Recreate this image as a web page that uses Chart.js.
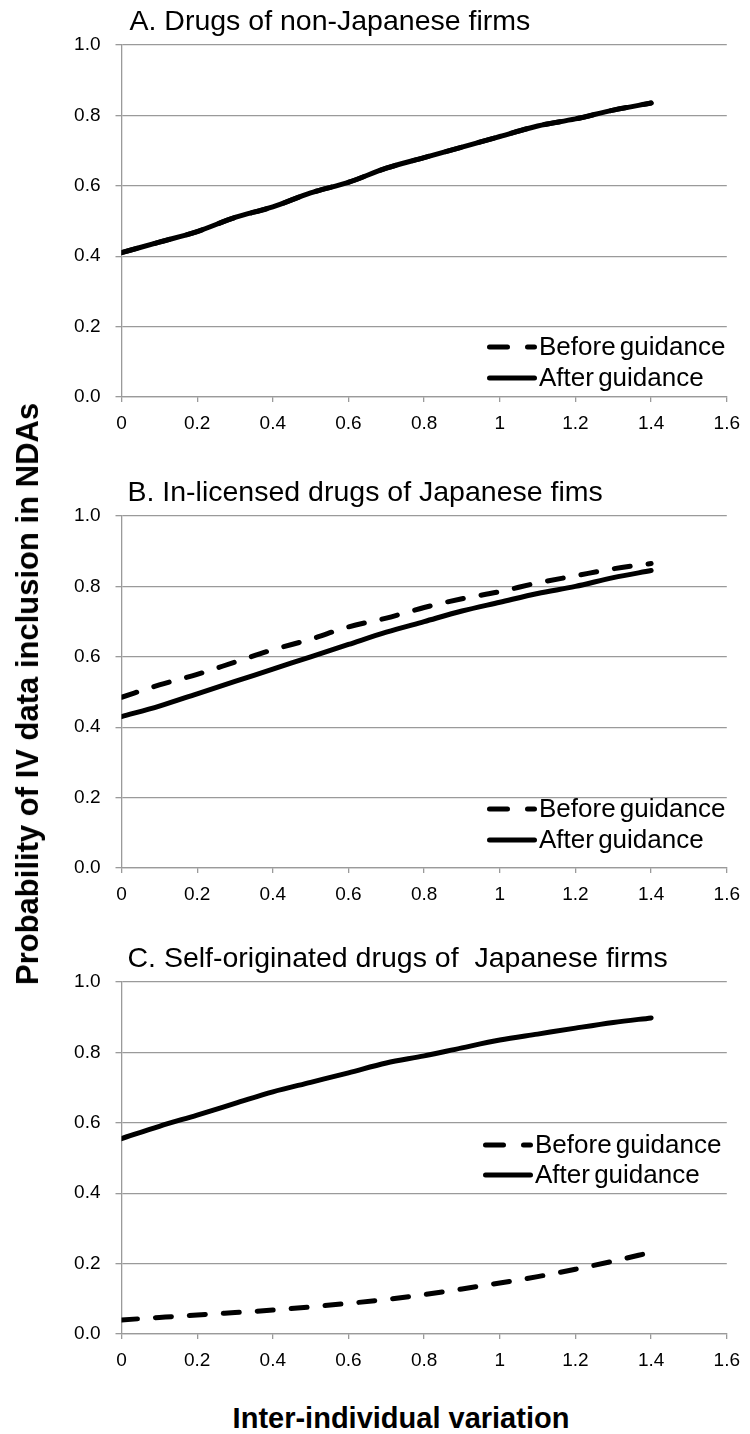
<!DOCTYPE html>
<html>
<head>
<meta charset="utf-8">
<script src="https://cdn.jsdelivr.net/npm/chart.js@4.4.1/dist/chart.umd.min.js"></script>
<style>
  html, body { margin: 0; padding: 0; background: #fff; }
  #page { position: relative; width: 750px; height: 1434px; overflow: hidden;
          font-family: "Liberation Sans", Arial, sans-serif; color: #000; }
  .panel { position: absolute; left: 0; width: 750px; height: 442px; }
  #ytitle { position: absolute; left: 28px; top: 694px; white-space: nowrap;
            transform: translate(-50%, -50%) rotate(-90deg);
            font-weight: bold; font-size: 31px; }
  #xtitle { position: absolute; left: 401px; top: 1418px; white-space: nowrap;
            transform: translate(-50%, -50%);
            font-weight: bold; font-size: 29px; }
</style>
</head>
<body>
<div id="page">
  <canvas id="panelA" class="panel" width="750" height="442" style="top:0px"></canvas>
  <canvas id="panelB" class="panel" width="750" height="442" style="top:471px"></canvas>
  <canvas id="panelC" class="panel" width="750" height="442" style="top:937px"></canvas>
  <div id="ytitle">Probability of IV data inclusion in NDAs</div>
  <div id="xtitle">Inter-individual variation</div>
</div>
<script>
// Inter-individual variation (x) at which each probability was evaluated
const variation = [0, 0.1, 0.2, 0.3, 0.4, 0.5, 0.6, 0.7, 0.8, 0.9, 1.0, 1.1, 1.2, 1.3, 1.4];

// A. Drugs of non-Japanese firms (the two curves coincide)
const nonJapaneseBefore = [0.41, 0.44, 0.47, 0.51, 0.54, 0.58, 0.61, 0.65, 0.68, 0.71, 0.74, 0.77, 0.79, 0.815, 0.835];
const nonJapaneseAfter  = [0.41, 0.44, 0.47, 0.51, 0.54, 0.58, 0.61, 0.65, 0.68, 0.71, 0.74, 0.77, 0.79, 0.815, 0.835];

// B. In-licensed drugs of Japanese firms
const inLicensedBefore = [0.485, 0.52, 0.55, 0.585, 0.62, 0.65, 0.685, 0.71, 0.74, 0.765, 0.785, 0.81, 0.83, 0.85, 0.865];
const inLicensedAfter  = [0.43, 0.46, 0.495, 0.53, 0.565, 0.60, 0.635, 0.67, 0.70, 0.73, 0.755, 0.78, 0.80, 0.825, 0.845];

// C. Self-originated drugs of Japanese firms
const selfOriginBefore = [0.04, 0.047, 0.054, 0.061, 0.068, 0.077, 0.087, 0.098, 0.112, 0.128, 0.145, 0.163, 0.184, 0.207, 0.232];
const selfOriginAfter  = [0.555, 0.59, 0.622, 0.655, 0.688, 0.715, 0.742, 0.77, 0.79, 0.813, 0.835, 0.852, 0.869, 0.885, 0.898];

// Axis ticks
const xTickValues = [0, 0.2, 0.4, 0.6, 0.8, 1.0, 1.2, 1.4, 1.6];
const xTickLabels = ['0', '0.2', '0.4', '0.6', '0.8', '1', '1.2', '1.4', '1.6'];
const yTickValues = [0, 0.2, 0.4, 0.6, 0.8, 1.0];
const yTickLabels = ['0.0', '0.2', '0.4', '0.6', '0.8', '1.0'];

const seriesNames = ['Before guidance', 'After guidance'];

const FONT = '"Liberation Sans", Arial, sans-serif';
const GRID = '#9a9a9a';

// Panel heading, drawn just above the plot area
const panelTitlePlugin = {
  id: 'panelTitle',
  afterDraw(chart, args, opts) {
    const { ctx, chartArea } = chart;
    ctx.save();
    ctx.font = `28.5px ${FONT}`;
    ctx.fillStyle = '#000';
    ctx.textAlign = 'left';
    ctx.textBaseline = 'alphabetic';
    ctx.fillText(opts.text, chartArea.left + opts.dx, chartArea.top - 15);
    ctx.restore();
  }
};

// Line-sample legend placed inside the plot area
const panelLegendPlugin = {
  id: 'panelLegend',
  afterDatasetsDraw(chart, args, opts) {
    const { ctx, chartArea } = chart;
    chart.data.datasets.forEach((ds, i) => {
      const y = chartArea.bottom - opts.rows[i];
      ctx.save();
      ctx.strokeStyle = ds.borderColor;
      ctx.lineWidth = ds.borderWidth;
      ctx.lineCap = 'round';
      ctx.setLineDash(ds.borderDash ? opts.dash : []);
      ctx.beginPath();
      ctx.moveTo(opts.x + 2.5, y);
      ctx.lineTo(opts.x + 47.5, y);
      ctx.stroke();
      ctx.setLineDash([]);
      ctx.font = `26px ${FONT}`;
      if ('wordSpacing' in ctx) ctx.wordSpacing = '-3px';
      ctx.fillStyle = '#000';
      ctx.textAlign = 'left';
      ctx.textBaseline = 'middle';
      ctx.fillText(ds.label, opts.x + 52, y + 1);
      ctx.restore();
    });
  }
};

function points(values) {
  return variation.map((x, i) => ({ x: x, y: values[i] }));
}

function makePanel(id, title, titleDx, before, after, legend) {
  return new Chart(document.getElementById(id), {
    type: 'line',
    data: {
      datasets: [
        { label: seriesNames[0], data: points(before), borderColor: '#000', borderWidth: 5,
          borderDash: [16, 18], borderCapStyle: 'round', borderJoinStyle: 'round',
          cubicInterpolationMode: 'monotone', pointRadius: 0, order: 2 },
        { label: seriesNames[1], data: points(after), borderColor: '#000', borderWidth: 5,
          borderCapStyle: 'round', borderJoinStyle: 'round',
          cubicInterpolationMode: 'monotone', pointRadius: 0, order: 1 }
      ]
    },
    options: {
      responsive: false,
      animation: false,
      events: [],
      layout: { padding: { top: 45, right: 17, left: 0, bottom: 0 } },
      plugins: {
        legend: { display: false },
        tooltip: { enabled: false },
        panelTitle: { text: title, dx: titleDx },
        panelLegend: legend
      },
      scales: {
        x: {
          type: 'linear', min: 0, max: 1.6,
          afterFit: s => { s.height = 45; },
          afterBuildTicks: s => { s.ticks = xTickValues.map(v => ({ value: v })); },
          ticks: { callback: (v, i) => xTickLabels[i], font: { size: 19, family: FONT },
                   color: '#000', padding: 10, maxRotation: 0, autoSkip: false },
          grid: { drawOnChartArea: false, drawTicks: true, tickLength: 5, color: GRID, lineWidth: 1.3 },
          border: { color: GRID, width: 1.3 }
        },
        y: {
          type: 'linear', min: 0, max: 1,
          afterFit: s => { s.width = 121.5; },
          afterBuildTicks: s => { s.ticks = yTickValues.map(v => ({ value: v })); },
          ticks: { callback: (v, i) => yTickLabels[i], font: { size: 19, family: FONT },
                   color: '#000', padding: 15, autoSkip: false },
          grid: { color: GRID, lineWidth: 1.3, tickLength: 6 },
          border: { color: GRID, width: 1.3 }
        }
      }
    },
    plugins: [panelTitlePlugin, panelLegendPlugin]
  });
}

makePanel('panelA', 'A. Drugs of non-Japanese firms', 8,
  nonJapaneseBefore, nonJapaneseAfter, { x: 487, rows: [50, 19], dash: [18, 20] });
makePanel('panelB', 'B. In-licensed drugs of Japanese fims', 6,
  inLicensedBefore, inLicensedAfter, { x: 487, rows: [59, 28], dash: [18, 20] });
makePanel('panelC', 'C. Self-originated drugs of  Japanese firms', 6,
  selfOriginBefore, selfOriginAfter, { x: 483, rows: [189, 159], dash: [18, 20] });
</script>
</body>
</html>
